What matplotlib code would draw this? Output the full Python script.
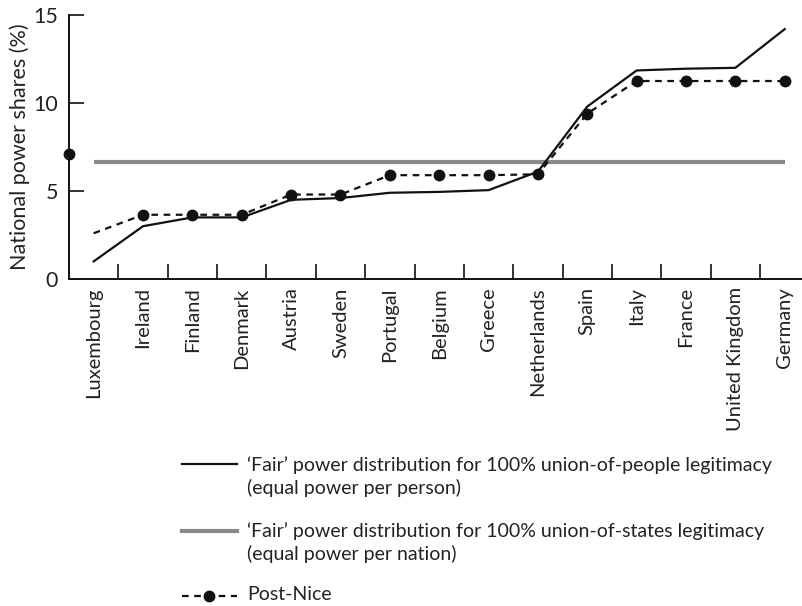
import matplotlib
matplotlib.use("Agg")
import matplotlib.pyplot as plt
from matplotlib.lines import Line2D

plt.rcParams["font.family"] = ["Lato", "DejaVu Sans"]

countries = ["Luxembourg", "Ireland", "Finland", "Denmark", "Austria", "Sweden",
             "Portugal", "Belgium", "Greece", "Netherlands", "Spain", "Italy",
             "France", "United Kingdom", "Germany"]
# equal power per person
people_share = [1.0, 3.0, 3.5, 3.5, 4.5, 4.6, 4.9, 4.95, 5.05, 6.1, 9.8, 11.85,
                11.95, 12.0, 14.2]
# equal power per nation
states_share = 100 / 15
# Post-Nice shares (Luxembourg's dot sits on the axis in the original)
nice_share = [2.6, 3.65, 3.65, 3.65, 4.8, 4.8, 5.9, 5.9, 5.9, 5.95, 9.4, 11.25,
              11.25, 11.25, 11.25]
lux_dot = 7.1

labels = ["\u2018Fair\u2019 power distribution for 100% union-of-people legitimacy\n(equal power per person)",
          "\u2018Fair\u2019 power distribution for 100% union-of-states legitimacy\n(equal power per nation)",
          "Post-Nice"]

fig = plt.figure(figsize=(8.02, 6.06), dpi=100)
ax = fig.add_axes([0.086, 0.5396, 0.914, 0.4356])
x = range(len(countries))

ax.plot(x, [states_share] * len(countries), color="#8a8a8a", lw=3, solid_capstyle="butt")
ax.plot(x, people_share, color="#111111", lw=1.6)
ax.plot(x, nice_share, color="#111111", lw=1.6, ls=(0, (3, 2.5)),
        marker="o", ms=7.5, markevery=list(range(1, len(countries))))
ax.plot([-0.5], [lux_dot], "o", color="#111111", ms=7.5, clip_on=False)

ax.set_xlim(-0.5, 14.35)
ax.set_ylim(0, 15)
ax.set_yticks([0, 5, 10, 15])
ax.set_xticks([i + 0.5 for i in range(len(countries) - 1)])
ax.set_xticklabels([])
ax.set_xticks(list(x), minor=True)
ax.set_xticklabels(countries, minor=True, rotation=90, va="top", ha="center", fontsize=14.5, color="#222222")
ax.tick_params(axis="x", which="major", direction="in", length=11, width=1.2, color="#111111")
ax.tick_params(axis="x", which="minor", length=0, pad=6)
ax.tick_params(axis="y", direction="in", length=11, width=1.2, color="#111111",
               labelsize=15.5, pad=8, labelcolor="#222222")
for side in ["top", "right"]:
    ax.spines[side].set_visible(False)
for side in ["left", "bottom"]:
    ax.spines[side].set_linewidth(1.4)
    ax.spines[side].set_color("#111111")
ax.set_ylabel("National power shares (%)", fontsize=15.5, color="#222222", labelpad=2)

# legend below the chart
h1 = Line2D([182, 237], [606 - 464] * 2, color="#111111", lw=1.6)
h2 = Line2D([182, 237], [606 - 531] * 2, color="#8a8a8a", lw=3)
h3 = Line2D([182, 237], [606 - 596] * 2, color="#111111", lw=1.6, ls=(0, (3, 2.5)))
h4 = Line2D([209], [606 - 596], color="#111111", marker="o", ms=7.5)
for h in (h1, h2, h3, h4):
    h.set_transform(None)
    fig.add_artist(h)
for lab, y in zip(labels, [466, 532, 596]):
    fig.text(247 / 802, 1 - (y - 10) / 606, lab, fontsize=14, color="#222222",
             va="top", ha="left", linespacing=1.35)

fig.savefig("out.png", dpi=100)
